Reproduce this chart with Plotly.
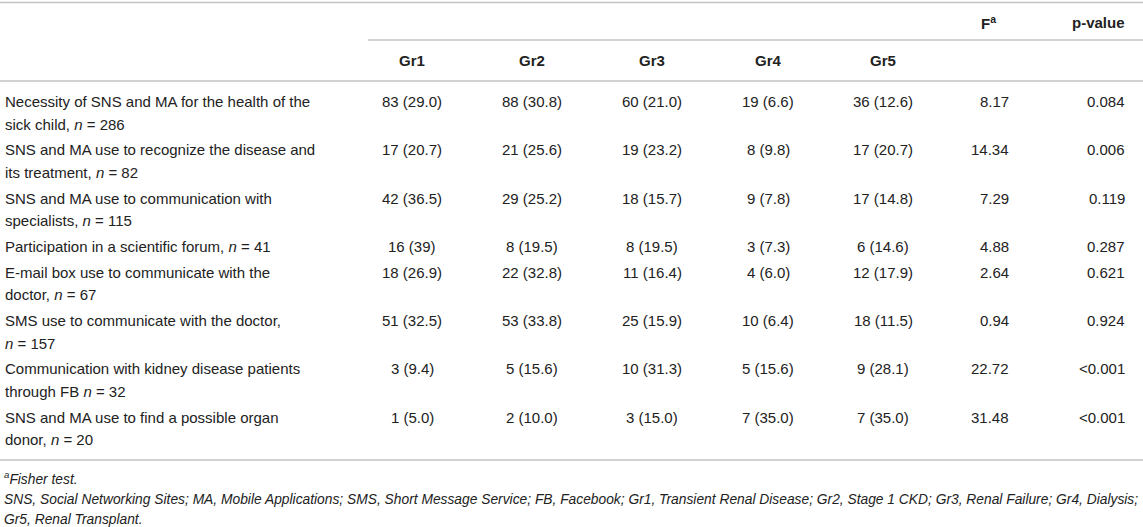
import plotly.graph_objects as go

# table content
row_labels = [
    "Necessity of SNS and MA for the health of the<br>sick child, <i>n</i> = 286",
    "SNS and MA use to recognize the disease and<br>its treatment, <i>n</i> = 82",
    "SNS and MA use to communication with<br>specialists, <i>n</i> = 115",
    "Participation in a scientific forum, <i>n</i> = 41",
    "E-mail box use to communicate with the<br>doctor, <i>n</i> = 67",
    "SMS use to communicate with the doctor,<br><i>n</i> = 157",
    "Communication with kidney disease patients<br>through FB <i>n</i> = 32",
    "SNS and MA use to find a possible organ<br>donor, <i>n</i> = 20",
]
group_names = ["Gr1", "Gr2", "Gr3", "Gr4", "Gr5"]
gr1 = ["83 (29.0)", "17 (20.7)", "42 (36.5)", "16 (39)", "18 (26.9)", "51 (32.5)", "3 (9.4)", "1 (5.0)"]
gr2 = ["88 (30.8)", "21 (25.6)", "29 (25.2)", "8 (19.5)", "22 (32.8)", "53 (33.8)", "5 (15.6)", "2 (10.0)"]
gr3 = ["60 (21.0)", "19 (23.2)", "18 (15.7)", "8 (19.5)", "11 (16.4)", "25 (15.9)", "10 (31.3)", "3 (15.0)"]
gr4 = ["19 (6.6)", "8 (9.8)", "9 (7.8)", "3 (7.3)", "4 (6.0)", "10 (6.4)", "5 (15.6)", "7 (35.0)"]
gr5 = ["36 (12.6)", "17 (20.7)", "17 (14.8)", "6 (14.6)", "12 (17.9)", "18 (11.5)", "9 (28.1)", "7 (35.0)"]
f_values = [8.17, 14.34, 7.29, 4.88, 2.64, 0.94, 22.72, 31.48]
p_values = ["0.084", "0.006", "0.119", "0.287", "0.621", "0.924", "<0.001", "<0.001"]

footnote_a = "<i><sup>a</sup>Fisher test.</i>"
footnote_abbr = [
    "<i>SNS, Social Networking Sites; MA, Mobile Applications; SMS, Short Message Service; FB, Facebook; "
    "Gr1, Transient Renal Disease; Gr2, Stage 1 CKD; Gr3, Renal Failure; Gr4, Dialysis;</i>",
    "<i>Gr5, Renal Transplant.</i>",
]

# layout (pixels)
W, H = 1143, 527
FONT = "Liberation Sans, Arial, sans-serif"
TXT = "#222222"
RULE = "#c3c3c3"
col_x = [412, 532, 652, 768, 883]
f_right = 1011
p_right = 1127
line_h = 22.5
row_pad = 3.3
y_first = 101.5

fig = go.Figure()
ann = []


def text(x, y, s, anchor="center", size=15, bold=False):
    if bold:
        s = "<b>" + s + "</b>"
    ann.append(dict(x=x, y=y, xref="x", yref="y", text=s, showarrow=False,
                    xanchor=anchor, yanchor="middle", align=anchor,
                    font=dict(family=FONT, size=size, color=TXT)))


# header
text(988, 22, "F<sup>a</sup>", bold=True)
text(p_right, 22, "p-value", anchor="right", bold=True)
for gx, g in zip(col_x, group_names):
    text(gx, 60, g, bold=True)

# body
groups = [gr1, gr2, gr3, gr4, gr5]
y = y_first
for i, lab in enumerate(row_labels):
    lines = lab.split("<br>")
    for k, ln in enumerate(lines):
        text(3, y + k * line_h, ln, anchor="left")
    for gx, col in zip(col_x, groups):
        text(gx, y, col[i])
    text(f_right, y, f"{f_values[i]:.2f}", anchor="right")
    text(p_right, y, p_values[i], anchor="right")
    y += len(lines) * line_h + row_pad

# footnotes
text(2, 478, footnote_a, anchor="left", size=13.8)
text(2, 499, footnote_abbr[0], anchor="left", size=13.8)
text(2, 519, footnote_abbr[1], anchor="left", size=13.8)

# rules
shapes = []
for x0, yy in [(0, 2.5), (368, 40), (0, 81), (0, 460)]:
    shapes.append(dict(type="line", xref="x", yref="y", x0=x0, x1=W, y0=yy, y1=yy,
                       line=dict(color=RULE, width=1.6)))

fig.update_layout(
    width=W, height=H,
    margin=dict(l=0, r=0, t=0, b=0),
    paper_bgcolor="white", plot_bgcolor="white",
    xaxis=dict(range=[0, W], visible=False, fixedrange=True),
    yaxis=dict(range=[H, 0], visible=False, fixedrange=True),
    annotations=ann, shapes=shapes, showlegend=False,
)

# page body has a default 8px margin, drop it so the table sits at the corner
fig.write_html("out.html", config={"displayModeBar": False},
               post_script="document.body.style.margin='0px';")
